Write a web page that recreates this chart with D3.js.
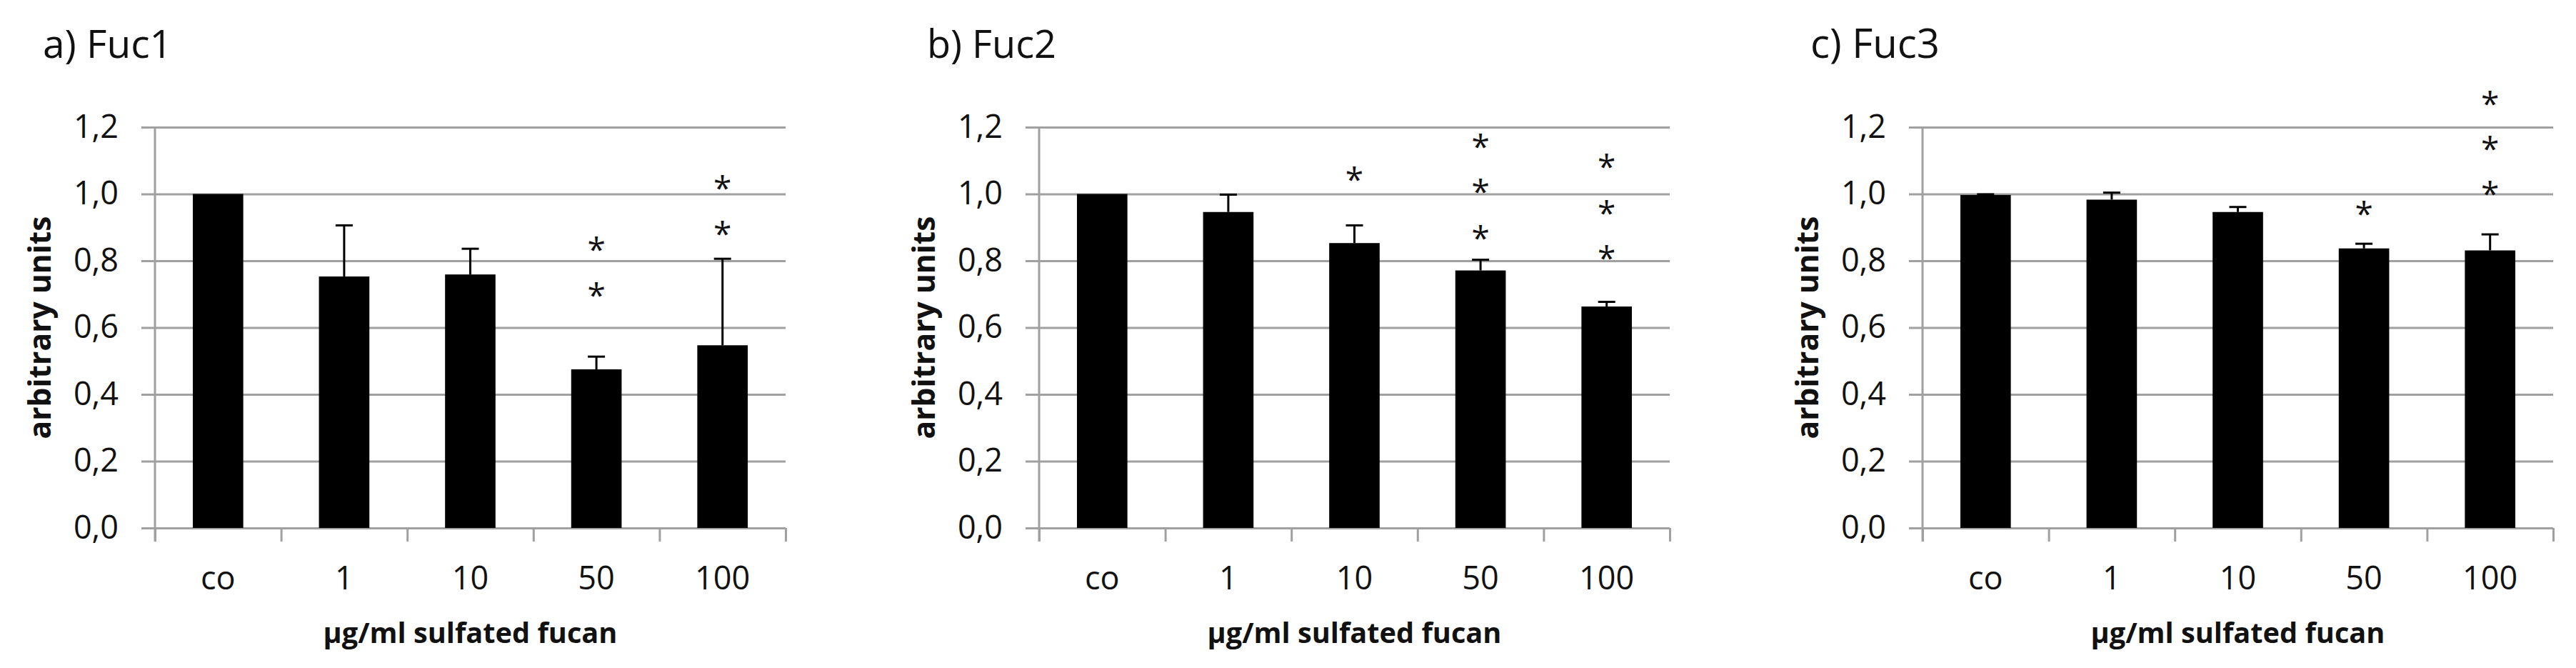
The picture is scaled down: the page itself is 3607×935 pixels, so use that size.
<!DOCTYPE html>
<html>
<head>
<meta charset="utf-8">
<script src="https://cdn.jsdelivr.net/npm/d3@7/dist/d3.min.js"></script>
<style>
  html, body { margin: 0; padding: 0; background: #fff; }
  svg { display: block; }
  text { font-family: "Open Sans", "Lato", sans-serif; fill: #111; }
</style>
</head>
<body>
<svg id="chart" width="3607" height="935"></svg>
<script>
// ---------- data ----------
const categories = ["co", "1", "10", "50", "100"];
const panelTitles = ["a) Fuc1", "b) Fuc2", "c) Fuc3"];
const yTickValues = [0, 0.2, 0.4, 0.6, 0.8, 1.0, 1.2];
const xAxisTitle = "µg/ml sulfated fucan";
const yAxisTitle = "arbitrary units";

const fuc1Values = [1.0, 0.753, 0.759, 0.475, 0.547];
const fuc1Errors = [0.0, 0.153, 0.077, 0.038, 0.259];
const fuc1Stars  = [[], [], [], [0.717, 0.853], [0.900, 1.037]];

const fuc2Values = [1.0, 0.946, 0.853, 0.771, 0.663];
const fuc2Errors = [0.0, 0.052, 0.053, 0.032, 0.014];
const fuc2Stars  = [[], [], [1.063], [0.888, 1.026, 1.162], [0.828, 0.962, 1.101]];

const fuc3Values = [0.997, 0.983, 0.946, 0.837, 0.831];
const fuc3Errors = [0.002, 0.021, 0.015, 0.014, 0.048];
const fuc3Stars  = [[], [], [], [0.959], [1.019, 1.154, 1.290]];

const panels = [
  { title: panelTitles[0], values: fuc1Values, errors: fuc1Errors, stars: fuc1Stars },
  { title: panelTitles[1], values: fuc2Values, errors: fuc2Errors, stars: fuc2Stars },
  { title: panelTitles[2], values: fuc3Values, errors: fuc3Errors, stars: fuc3Stars }
];

// ---------- layout ----------
const svg = d3.select("#chart");
const plotW = 883;
const plotTop = 178, plotBottom = 739;
const axisLefts = [217, 1455, 2692];
const gridColor = "#a0a0a0";
const tickFont = 45;

function fitFont(sel, target) {
  const len = sel.node().getComputedTextLength();
  const fs = parseFloat(sel.attr("font-size"));
  sel.attr("font-size", fs * target / len);
}

panels.forEach((p, i) => {
  const g = svg.append("g").attr("transform", `translate(${axisLefts[i]},0)`);

  const x = d3.scaleBand().domain(categories).range([0, plotW])
    .paddingInner(0.6).paddingOuter(0.3);
  const xb = d3.scaleLinear().domain([0, categories.length]).range([0, plotW]);
  const y = d3.scaleLinear().domain([0, 1.2]).range([plotBottom, plotTop]);

  // gridlines (with left tick stubs)
  const grid = g.append("g").call(
    d3.axisLeft(y).tickValues(yTickValues).tickSize(-(plotW + 19)).tickFormat("")
  );
  grid.select(".domain").remove();
  grid.selectAll(".tick line").attr("x1", -19).attr("x2", plotW)
    .attr("stroke", gridColor).attr("stroke-width", 3);

  // y tick labels
  const yAx = g.append("g").call(
    d3.axisLeft(y).tickValues(yTickValues).tickSize(0).tickPadding(51)
      .tickFormat(d => d.toFixed(1).replace(".", ","))
  );
  yAx.select(".domain").remove();
  yAx.selectAll("text").attr("font-size", tickFont)
    .attr("font-family", "'Open Sans', sans-serif").attr("fill", "#111");

  // vertical axis line
  g.append("line").attr("x1", 0).attr("x2", 0)
    .attr("y1", y(1.2)).attr("y2", y(0) + 19)
    .attr("stroke", gridColor).attr("stroke-width", 3);

  // x boundary ticks
  const xt = g.append("g").attr("transform", `translate(0,${y(0)})`).call(
    d3.axisBottom(xb).ticks(categories.length).tickSize(19).tickFormat("")
  );
  xt.select(".domain").remove();
  xt.selectAll(".tick line").attr("stroke", gridColor).attr("stroke-width", 3);

  // category labels
  const xl = g.append("g").attr("transform", `translate(0,${y(0)})`).call(
    d3.axisBottom(x).tickSize(0).tickPadding(0)
  );
  xl.select(".domain").remove();
  xl.selectAll("text").attr("font-size", tickFont)
    .attr("font-family", "'Open Sans', sans-serif").attr("fill", "#111")
    .attr("dy", null).attr("y", 86);

  // bars
  g.selectAll("rect.bar").data(categories).enter().append("rect")
    .attr("class", "bar")
    .attr("x", d => x(d))
    .attr("width", x.bandwidth())
    .attr("y", (d, k) => y(p.values[k]))
    .attr("height", (d, k) => y(0) - y(p.values[k]))
    .attr("fill", "#000");

  // error bars (upper only)
  const eb = g.selectAll("g.err").data(categories).enter().append("g").attr("class", "err");
  eb.append("line")
    .attr("x1", d => x(d) + x.bandwidth() / 2).attr("x2", d => x(d) + x.bandwidth() / 2)
    .attr("y1", (d, k) => y(p.values[k])).attr("y2", (d, k) => y(p.values[k] + p.errors[k]))
    .attr("stroke", "#000").attr("stroke-width", 3);
  eb.append("line")
    .attr("x1", d => x(d) + x.bandwidth() / 2 - 12).attr("x2", d => x(d) + x.bandwidth() / 2 + 12)
    .attr("y1", (d, k) => y(p.values[k] + p.errors[k])).attr("y2", (d, k) => y(p.values[k] + p.errors[k]))
    .attr("stroke", "#000").attr("stroke-width", 3)
    .attr("opacity", (d, k) => p.errors[k] > 0 ? 1 : 0);

  // significance stars
  const starData = [];
  categories.forEach((c, k) => p.stars[k].forEach(v => starData.push({ c, v })));
  g.selectAll("text.star").data(starData).enter().append("text")
    .attr("class", "star")
    .attr("x", d => x(d.c) + x.bandwidth() / 2)
    .attr("y", d => y(d.v) + 0.56 * 46)
    .attr("text-anchor", "middle")
    .attr("font-size", 46)
    .attr("fill", "#111")
    .text("*");

  // panel title
  const t = g.append("text").attr("x", -157).attr("y", 81)
    .attr("font-size", 55).attr("fill", "#111").text(p.title);
  fitFont(t, 181);

  // x axis title
  const xtT = g.append("text").attr("x", plotW / 2).attr("y", 900)
    .attr("text-anchor", "middle").attr("font-weight", "bold")
    .attr("font-size", 40).attr("fill", "#111").text(xAxisTitle);
  fitFont(xtT, 412);

  // y axis title
  const ytT = g.append("text")
    .attr("transform", `translate(-146,${(plotTop + plotBottom) / 2}) rotate(-90)`)
    .attr("text-anchor", "middle").attr("font-weight", "bold")
    .attr("font-size", 42).attr("fill", "#111").text(yAxisTitle);
  fitFont(ytT, 312);
});
</script>
</body>
</html>
